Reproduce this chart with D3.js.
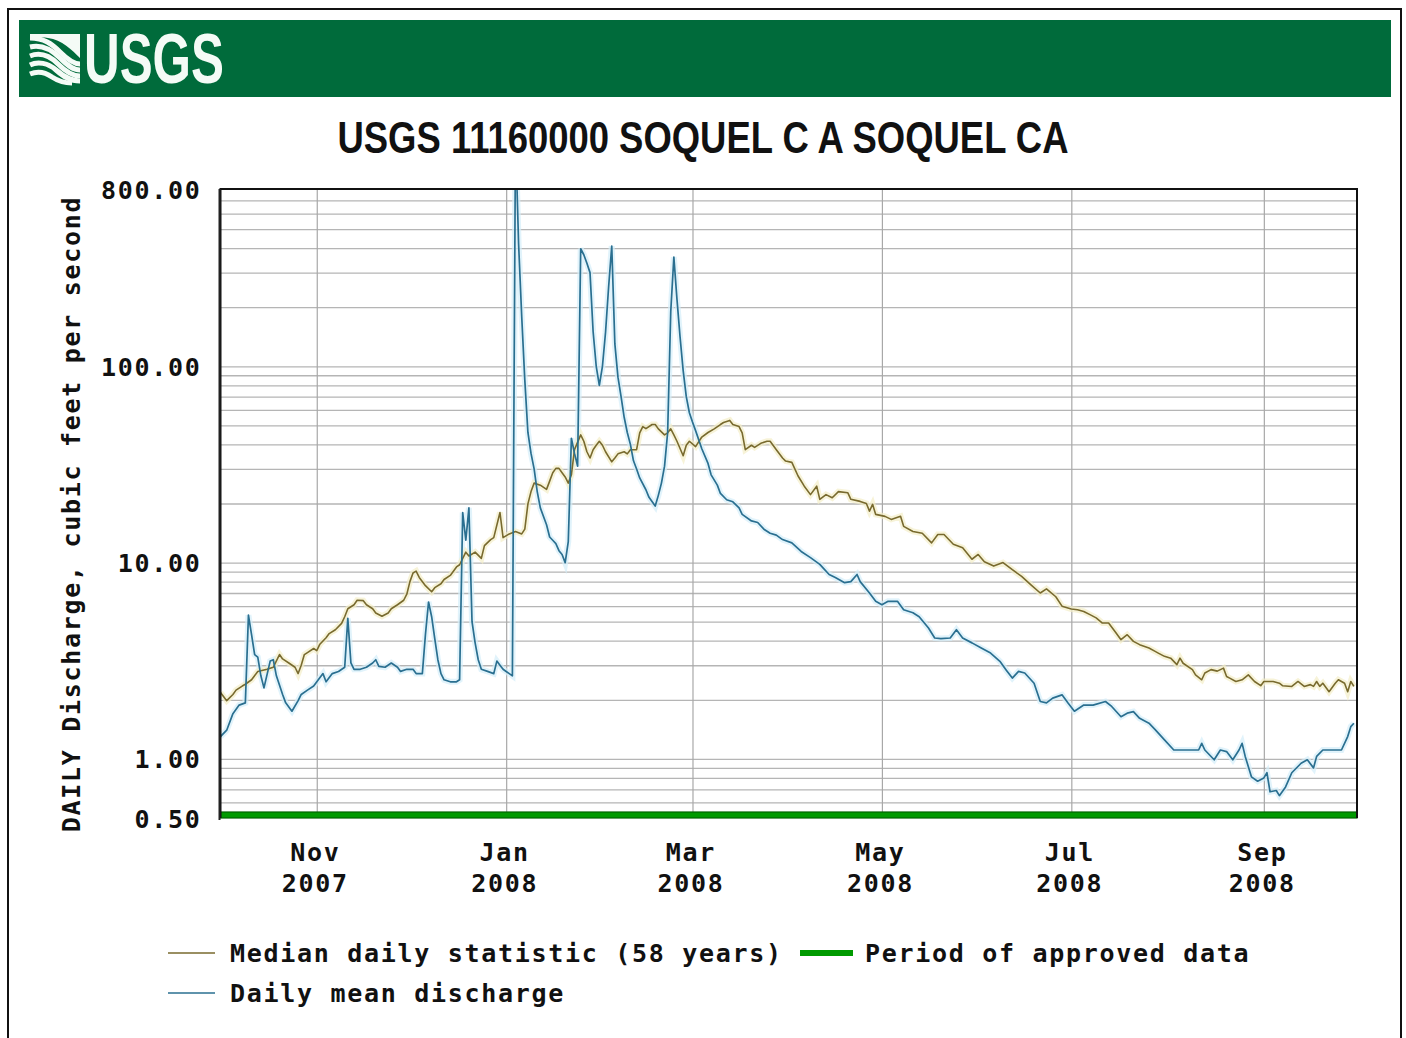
<!DOCTYPE html>
<html><head><meta charset="utf-8">
<script src="https://cdn.jsdelivr.net/npm/d3@7"></script>
<style>
body{margin:0;background:#fff;}
svg{display:block;}
.mono{font-family:"DejaVu Sans Mono","Liberation Mono",monospace;font-weight:bold;font-size:25px;letter-spacing:1.7px;fill:#111;}
</style></head><body>
<svg id="chart" width="1406" height="1038"></svg>
<script>
const stationTitle = "USGS 11160000 SOQUEL C A SOQUEL CA";
const logoText = "USGS";
const yAxisTitle = "DAILY Discharge, cubic feet per second";
const waterYearStart = "2007-10-01";
const waterYearEnd = "2008-10-01";
const yTickValues = [0.5, 1, 10, 100, 800];
const yTickLabels = ["0.50", "1.00", "10.00", "100.00", "800.00"];
const yGridValues = [0.6,0.7,0.8,0.9,1,2,3,4,5,6,7,8,9,10,20,30,40,50,60,70,80,90,100,200,300,400,500,600,700];
const xTickDates = ["2007-11-01","2008-01-01","2008-03-01","2008-05-01","2008-07-01","2008-09-01"];
const xTickMonths = ["Nov","Jan","Mar","May","Jul","Sep"];
const xTickYears = ["2007","2008","2008","2008","2008","2008"];
const legendMedian = "Median daily statistic (58 years)";
const legendApproved = "Period of approved data";
const legendDaily = "Daily mean discharge";

// [day of water year (0 = 2007-10-01), cubic feet per second]
const medianSeries = [[0,2.18],[2,1.98],[4,2.13],[5,2.24],[7,2.35],[8,2.4],[10,2.53],[12,2.79],[15,2.86],[17,2.93],[19,3.4],[20,3.23],[22,3.08],[24,2.93],[25,2.72],[26,3.0],[27,3.4],[28,3.48],[30,3.65],[31,3.56],[32,3.84],[34,4.14],[35,4.35],[37,4.55],[39,4.9],[40,5.3],[41,5.82],[43,6.1],[44,6.43],[46,6.4],[47,6.1],[49,5.82],[50,5.54],[52,5.33],[54,5.54],[55,5.82],[57,6.1],[59,6.43],[60,6.9],[61,8.0],[62,8.85],[63,9.05],[64,8.4],[66,7.63],[68,7.1],[69,7.45],[71,7.8],[72,8.2],[74,8.6],[76,9.5],[77,9.75],[79,11.3],[80,10.8],[82,11.3],[84,10.5],[85,12.2],[87,13.1],[88,13.4],[90,18],[91,13.4],[93,14],[95,14.4],[97,14],[98,14.8],[99,19.9],[100,23],[101,25.4],[103,24.8],[105,23.6],[106,26],[107,28.7],[108,30.2],[109,30.2],[110,28.7],[111,27.3],[112,25.4],[113,28],[114,37.6],[116,44.7],[117,41.5],[118,36.7],[119,34.1],[120,37.6],[121,39.6],[122,41.5],[123,39.6],[124,36.7],[126,32.6],[127,34.1],[128,35.8],[130,36.7],[131,35.8],[132,37.6],[134,37.6],[135,45.8],[136,49.3],[137,48.1],[139,50.5],[140,50.5],[141,48],[143,44.7],[144,45.8],[145,48],[146,44.7],[147,41.5],[149,35],[150,39.6],[151,41.5],[153,39],[155,43.6],[157,46],[159,48],[161,50.5],[162,51.7],[164,53],[165,50.5],[167,49.3],[168,45.8],[169,37.6],[171,39.6],[172,38.6],[174,40.5],[176,41.5],[177,41.5],[179,37.6],[181,34.1],[182,32.9],[184,32.4],[186,27.6],[188,24.5],[190,22.2],[192,24.5],[193,21],[195,22.2],[197,21.4],[199,23],[202,22.7],[203,21],[206,20.5],[208,20],[209,18.3],[210,19.8],[211,17.6],[214,17.2],[216,16.6],[219,17.2],[220,15.3],[223,14.4],[226,14.1],[229,12.6],[231,13.9],[233,13.9],[236,12.4],[239,11.9],[242,10.4],[244,11],[246,10.1],[249,9.6],[252,10],[255,9.2],[258,8.5],[261,7.7],[264,7.0],[266,7.35],[269,6.7],[271,6.0],[274,5.8],[276,5.75],[278,5.64],[280,5.43],[282,5.23],[284,4.92],[286,4.92],[288,4.47],[290,4.05],[292,4.29],[294,3.97],[296,3.82],[299,3.67],[301,3.53],[302,3.46],[304,3.33],[306,3.26],[308,3.02],[309,3.26],[310,3.07],[313,2.85],[314,2.68],[316,2.53],[317,2.74],[319,2.85],[321,2.8],[323,2.9],[324,2.63],[325,2.58],[327,2.48],[329,2.53],[331,2.68],[333,2.48],[335,2.36],[336,2.48],[339,2.48],[341,2.43],[342,2.36],[345,2.34],[347,2.48],[349,2.34],[351,2.39],[352,2.34],[353,2.48],[354,2.34],[355,2.43],[357,2.2],[359,2.43],[360,2.53],[362,2.43],[363,2.2],[364,2.48],[365,2.34]];

const dailyMeanSeries = [[0,1.3],[2,1.4],[4,1.7],[6,1.88],[8,1.93],[9,5.4],[10,4.3],[11,3.4],[12,3.3],[13,2.65],[14,2.3],[16,3.15],[17,3.2],[18,2.65],[20,2.13],[21,1.93],[23,1.75],[25,1.98],[26,2.13],[28,2.24],[30,2.35],[33,2.72],[34,2.47],[36,2.72],[38,2.79],[40,2.93],[41,5.2],[42,3.08],[43,2.86],[45,2.86],[47,2.93],[49,3.08],[50,3.2],[51,2.96],[53,2.93],[55,3.08],[57,2.93],[58,2.79],[60,2.86],[62,2.86],[63,2.72],[65,2.72],[66,4.3],[67,6.3],[68,5.3],[69,4.1],[70,3.2],[71,2.72],[72,2.53],[74,2.47],[76,2.47],[77,2.53],[78,18],[79,13],[80,19],[81,5],[82,3.9],[83,3.2],[84,2.86],[86,2.79],[88,2.72],[89,3.15],[90,3.0],[91,2.86],[92,2.79],[93,2.72],[94,2.65],[95,1500],[96,420],[97,180],[98,85],[99,46],[100,36],[101,30],[102,23],[103,19],[105,15.6],[106,13.5],[107,13],[108,12.5],[109,11.5],[110,11],[111,10],[112,12.8],[113,43],[114,36],[115,31],[116,397],[117,370],[118,335],[119,300],[120,150],[121,100],[122,80],[123,100],[124,149],[125,255],[126,410],[127,130],[128,88],[129,70],[130,55],[131,46],[132,40],[133,33],[134,30],[135,27],[137,23.5],[138,21.5],[140,19.4],[141,22],[142,25.4],[143,31],[144,46],[145,190],[146,360],[147,220],[148,141],[149,95],[150,70],[151,58],[152,52],[153,47],[155,38],[157,32],[158,28],[160,24.8],[161,22.5],[163,20.9],[165,20.4],[167,19],[168,17.6],[171,16.3],[173,16],[175,14.8],[177,14.1],[179,13.8],[181,13.1],[184,12.6],[187,11.4],[190,10.6],[193,9.8],[196,8.7],[198,8.4],[201,7.9],[203,8.0],[205,8.7],[206,8.0],[209,7.0],[211,6.35],[213,6.1],[215,6.35],[218,6.35],[220,5.75],[223,5.55],[225,5.3],[228,4.64],[230,4.13],[232,4.1],[235,4.13],[237,4.55],[239,4.13],[242,3.9],[245,3.67],[248,3.46],[251,3.14],[253,2.84],[255,2.58],[257,2.79],[259,2.74],[262,2.43],[264,1.96],[266,1.93],[268,2.04],[271,2.12],[273,1.92],[275,1.75],[278,1.88],[281,1.88],[285,1.96],[287,1.85],[290,1.64],[292,1.71],[294,1.74],[296,1.61],[299,1.52],[301,1.41],[304,1.25],[307,1.11],[311,1.11],[315,1.11],[316,1.2],[317,1.11],[320,0.99],[322,1.11],[324,1.09],[326,0.99],[328,1.11],[329,1.2],[330,1.03],[332,0.81],[334,0.77],[336,0.8],[337,0.85],[338,0.68],[340,0.69],[341,0.65],[343,0.72],[345,0.85],[348,0.95],[350,0.99],[352,0.9],[353,1.03],[355,1.11],[358,1.11],[361,1.11],[363,1.3],[364,1.46],[365,1.52]];

const medianColor = "#786a2e";
const dailyColor = "#2a6f90";
const approvedColor = "#009a00";

const svg = d3.select("#chart");
const W = 1406, H = 1038;
const L = 220.5, R = 1357, T = 189, B = 818;
const parse = d3.timeParse("%Y-%m-%d");
const start = parse(waterYearStart), end = parse(waterYearEnd);

svg.append("rect").attr("width", W).attr("height", H).attr("fill", "#fff");
svg.append("rect").attr("x", 8).attr("y", 9).attr("width", 1393).attr("height", 1060)
  .attr("fill", "none").attr("stroke", "#111").attr("stroke-width", 2);

// header band
svg.append("rect").attr("x", 19).attr("y", 20).attr("width", 1372).attr("height", 77).attr("fill", "#006b3b");
const logo = svg.append("g");
const waves = [
  "M30,38 C44,38 52,44 60,52 C68,60 74,64 80,64",
  "M30,47 C42,44 52,50 60,58 C67,65 73,70 80,70",
  "M30,56 C40,52 50,56 58,64 C65,71 72,76 80,76",
  "M30,65 C38,61 48,63 56,70 C63,76 70,81 80,81",
  "M30,74 C37,71 45,72 52,77 C58,81 64,83 72,83"
];
logo.selectAll("path.wave").data(waves).join("path").attr("class","wave")
  .attr("d", d => d).attr("fill", "none").attr("stroke", "#f4fbf6").attr("stroke-width", 5);
logo.append("path").attr("d", "M30,34 L80,34 L80,58 C72,50 62,40 48,38 C40,37 34,38 30,40 Z").attr("fill", "#f4fbf6");
logo.append("text").attr("x", 84).attr("y", 83).text(logoText)
  .attr("font-family", "'Liberation Sans Narrow','Liberation Sans',Arial,sans-serif")
  .attr("font-weight", "bold").attr("font-size", 70).attr("fill", "#f4fbf6")
  .attr("textLength", 140).attr("lengthAdjust", "spacingAndGlyphs");

// title
svg.append("text").attr("x", 703).attr("y", 153).attr("text-anchor", "middle").text(stationTitle)
  .attr("font-family", "'Liberation Sans Narrow','Liberation Sans',Arial,sans-serif")
  .attr("font-weight", "bold").attr("font-size", 45).attr("fill", "#111")
  .attr("textLength", 731).attr("lengthAdjust", "spacingAndGlyphs");

const x = d3.scaleTime().domain([start, end]).range([L, R]);
const y = d3.scaleLog().domain([0.5, 800]).range([B, T]);
const dayDate = d => d3.timeDay.offset(start, d);

// horizontal gridlines
const gy = svg.append("g").attr("transform", `translate(${L},0)`)
  .call(d3.axisLeft(y).tickValues(yGridValues).tickSize(-(R - L)).tickFormat(""));
gy.select(".domain").remove();
gy.selectAll(".tick line").attr("stroke", "#b5b5b5").attr("stroke-width", 1.3);

// vertical gridlines
const gx = svg.append("g").attr("transform", `translate(0,${B})`)
  .call(d3.axisBottom(x).tickValues(xTickDates.map(parse)).tickSize(-(B - T)).tickFormat(""));
gx.select(".domain").remove();
gx.selectAll(".tick line").attr("stroke", "#a8a8a8").attr("stroke-width", 1.2);

// lines
svg.append("clipPath").attr("id", "plotClip").append("rect")
  .attr("x", L).attr("y", T).attr("width", R - L).attr("height", B - T);
const lineGen = d3.line().x(d => x(dayDate(d[0]))).y(d => y(d[1]));
const plot = svg.append("g").attr("clip-path", "url(#plotClip)");
plot.append("path").datum(dailyMeanSeries).attr("d", lineGen).attr("fill", "none")
  .attr("stroke", "#d4eef9").attr("stroke-width", 6).attr("stroke-opacity", 0.7);
plot.append("path").datum(medianSeries).attr("d", lineGen).attr("fill", "none")
  .attr("stroke", "#f3eec8").attr("stroke-width", 6).attr("stroke-opacity", 0.7);
plot.append("path").datum(medianSeries).attr("d", lineGen).attr("fill", "none")
  .attr("stroke", medianColor).attr("stroke-width", 1.6).attr("stroke-linejoin", "round");
plot.append("path").datum(dailyMeanSeries).attr("d", lineGen).attr("fill", "none")
  .attr("stroke", dailyColor).attr("stroke-width", 1.7).attr("stroke-linejoin", "round");

// approved-data bar
svg.append("rect").attr("x", x(start)).attr("y", 812).attr("width", x(end) - x(start)).attr("height", 6)
  .attr("fill", approvedColor).attr("stroke", "#006400").attr("stroke-width", 1.2);

// frame
svg.append("path").attr("d", `M${L},${B} L${L},${T} L${R},${T} L${R},${B}`)
  .attr("fill", "none").attr("stroke", "#111").attr("stroke-width", 2);
svg.append("line").attr("x1", L - 1).attr("x2", L - 1).attr("y1", T).attr("y2", B + 2)
  .attr("stroke", "#222").attr("stroke-width", 2);

// y axis labels
const ya = svg.append("g").attr("transform", `translate(${L},0)`)
  .call(d3.axisLeft(y).tickValues(yTickValues).tickSize(0).tickPadding(19)
    .tickFormat((d, i) => yTickLabels[i]));
ya.select(".domain").remove();
ya.selectAll("text").attr("class", "mono").attr("font-size", null).attr("font-family", null)
  .attr("dy", "0.36em");

// x axis labels
const xa = svg.append("g").attr("transform", `translate(0,${B})`)
  .call(d3.axisBottom(x).tickValues(xTickDates.map(parse)).tickSize(0).tickFormat(""));
xa.select(".domain").remove();
xa.selectAll(".tick").each(function(d, i) {
  const g = d3.select(this);
  g.select("text").remove();
  g.append("text").attr("class", "mono").attr("text-anchor", "middle").attr("x", -2).attr("y", 43).text(xTickMonths[i]);
  g.append("text").attr("class", "mono").attr("text-anchor", "middle").attr("x", -2).attr("y", 74).text(xTickYears[i]);
});

// y axis title
svg.append("text").attr("class", "mono").attr("transform", "translate(80,514) rotate(-90)")
  .attr("text-anchor", "middle").text(yAxisTitle);

// legend
const lg = svg.append("g");
lg.append("line").attr("x1", 168).attr("x2", 215).attr("y1", 953).attr("y2", 953)
  .attr("stroke", medianColor).attr("stroke-width", 1.6);
lg.append("text").attr("class", "mono").attr("x", 230).attr("y", 962).text(legendMedian);
lg.append("rect").attr("x", 800).attr("y", 950).attr("width", 53).attr("height", 6).attr("fill", approvedColor);
lg.append("text").attr("class", "mono").attr("x", 865).attr("y", 962).text(legendApproved);
lg.append("line").attr("x1", 168).attr("x2", 215).attr("y1", 993).attr("y2", 993)
  .attr("stroke", dailyColor).attr("stroke-width", 1.6);
lg.append("text").attr("class", "mono").attr("x", 230).attr("y", 1002).text(legendDaily);
</script>
</body></html>
